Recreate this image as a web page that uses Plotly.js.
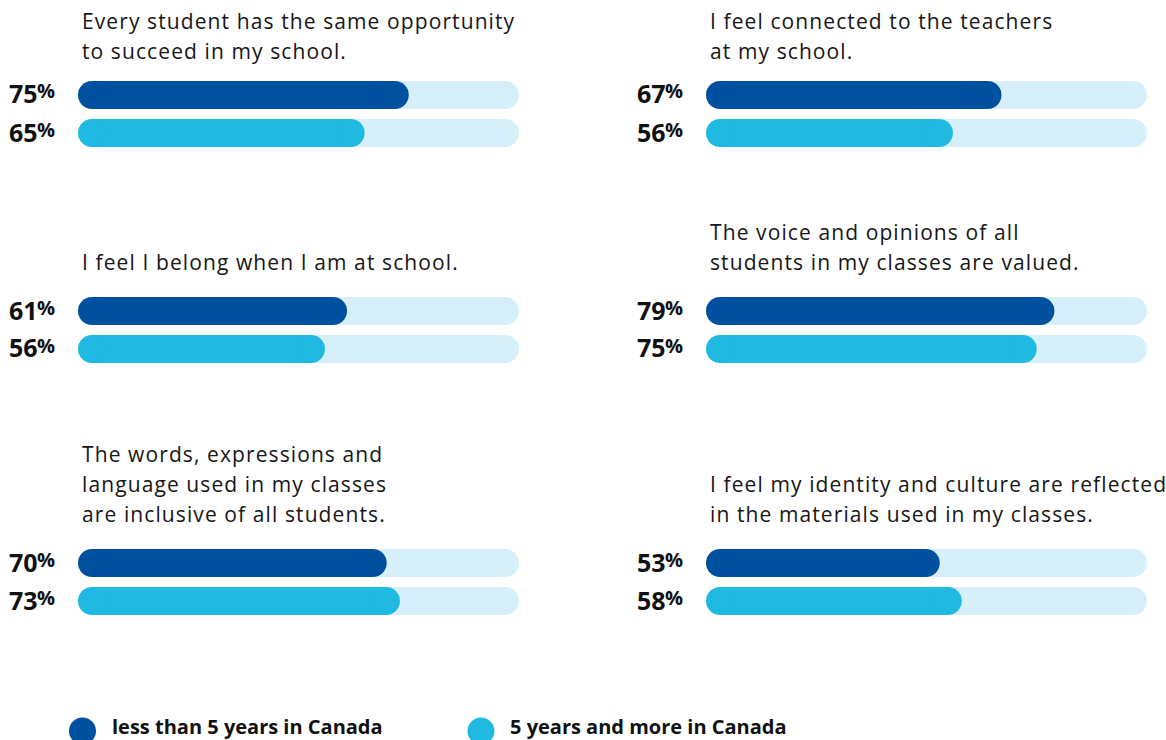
<!DOCTYPE html>
<html>
<head>
<meta charset="utf-8">
<script src="https://cdn.plot.ly/plotly-3.0.1.min.js"></script>
<style>
html,body{margin:0;padding:0;background:#fff;}
#chart{width:1166px;height:740px;}
</style>
</head>
<body>
<div id="chart"></div>
<script>
// ---- data ----
var questions = [
  ["Every student has the same opportunity", "to succeed in my school."],
  ["I feel connected to the teachers", "at my school."],
  ["I feel I belong when I am at school."],
  ["The voice and opinions of all", "students in my classes are valued."],
  ["The words, expressions and", "language used in my classes", "are inclusive of all students."],
  ["I feel my identity and culture are reflected", "in the materials used in my classes."]
];
var seriesNames = ["less than 5 years in Canada", "5 years and more in Canada"];
var lessThan5 = [75, 67, 61, 79, 70, 53];
var fivePlus = [65, 56, 56, 75, 73, 58];
var trackMax = 100;

// ---- style / layout ----
var W = 1166, H = 740;
var colDark = "#0050A0", colCyan = "#1FB9E1", colTrack = "#D7EFF8";
var fontFam = "'Open Sans', Lato, sans-serif";
var colX = [[78, 519], [706, 1147]];           // px left/right of track
var rowBarCenter = [95, 311, 563];              // px of first bar center
var rowLastLine = [51, 262, 514];               // px of last title line center
var catStep = 38, lineStep = 30, barPx = 28;

function px2x(p){ return p / W; }
function px2y(p){ return 1 - p / H; }

var data = [], layout = {
  width: W, height: H,
  margin: {l: 0, r: 0, t: 0, b: 0},
  paper_bgcolor: "#fff", plot_bgcolor: "#fff",
  barmode: "overlay", showlegend: false,
  font: {family: fontFam, color: "#111"},
  annotations: [], shapes: []
};
var cats = ["a", "b"];
var capR = (barPx / 2) / (colX[0][1] - colX[0][0]) * trackMax;   // cap radius in data units

function body(xa, ya, cat, v, color, name) {
  data.push({type: "bar", orientation: "h", base: [capR], x: [v - 2 * capR], y: [cat],
    xaxis: xa, yaxis: ya, name: name, width: barPx / catStep,
    marker: {color: color, line: {width: 0}}, hoverinfo: "skip"});
}
function caps(xa, ya, catArr, xArr, color) {
  data.push({type: "scatter", mode: "markers", x: xArr, y: catArr, xaxis: xa, yaxis: ya,
    cliponaxis: false, hoverinfo: "skip",
    marker: {symbol: "circle", size: barPx, color: color, line: {width: 0}}});
}

for (var i = 0; i < questions.length; i++) {
  var col = i % 2, row = Math.floor(i / 2);
  var n = i + 1;
  var xa = n === 1 ? "x" : "x" + n, ya = n === 1 ? "y" : "y" + n;
  var xk = n === 1 ? "xaxis" : "xaxis" + n, yk = n === 1 ? "yaxis" : "yaxis" + n;
  var yTopPx = rowBarCenter[row] - catStep / 2, yBotPx = rowBarCenter[row] + catStep * 1.5;
  layout[xk] = {domain: [px2x(colX[col][0]), px2x(colX[col][1])], range: [0, trackMax],
    visible: false, fixedrange: true, anchor: ya};
  layout[yk] = {domain: [px2y(yBotPx), px2y(yTopPx)], range: [1.5, -0.5], type: "category",
    categoryorder: "array", categoryarray: cats, visible: false, fixedrange: true, anchor: xa};
  var a = lessThan5[i], b = fivePlus[i];
  // tracks (left end is covered by the series' own round cap)
  body(xa, ya, cats[0], trackMax, colTrack, "track");
  body(xa, ya, cats[1], trackMax, colTrack, "track");
  caps(xa, ya, [cats[0], cats[1]], [trackMax - capR, trackMax - capR], colTrack);
  // series
  body(xa, ya, cats[0], a, colDark, seriesNames[0]);
  body(xa, ya, cats[1], b, colCyan, seriesNames[1]);
  caps(xa, ya, [cats[0], cats[0]], [capR, a - capR], colDark);
  caps(xa, ya, [cats[1], cats[1]], [capR, b - capR], colCyan);

  // value labels
  [a, b].forEach(function(v, k){
    var cy = rowBarCenter[row] + k * catStep;
    layout.annotations.push({xref: "paper", yref: "paper",
      x: px2x(colX[col][0] - 38), y: px2y(cy - 1.5),
      xanchor: "right", yanchor: "middle", showarrow: false,
      text: "<b>" + v + "</b>",
      font: {size: 25, color: "#111", family: fontFam}});
    layout.annotations.push({xref: "paper", yref: "paper",
      x: px2x(colX[col][0] - 43), y: px2y(cy - 4),
      xanchor: "left", yanchor: "middle", showarrow: false,
      text: "<b>%</b>",
      font: {size: 20, color: "#111", family: fontFam}});
  });
  // title lines
  var lines = questions[i];
  for (var L = 0; L < lines.length; L++) {
    var ly = rowLastLine[row] - (lines.length - 1 - L) * lineStep;
    layout.annotations.push({xref: "paper", yref: "paper",
      x: px2x(colX[col][0] + 2), y: px2y(ly), xanchor: "left", yanchor: "middle",
      showarrow: false, text: "<span style='letter-spacing:1.1px'>" + lines[L] + "</span>",
      font: {size: 21, color: "#161616", family: fontFam}});
  }
}

// legend (decoration)
var legX = [[82.5, 110], [481, 508]];
[colDark, colCyan].forEach(function(c, k){
  layout.shapes.push({type: "circle", xref: "paper", yref: "paper", fillcolor: c, line: {width: 0},
    x0: px2x(legX[k][0] - 13.5), x1: px2x(legX[k][0] + 13.5), y0: px2y(731 + 13.5), y1: px2y(731 - 13.5)});
  layout.annotations.push({xref: "paper", yref: "paper", x: px2x(legX[k][1]), y: px2y(726),
    xanchor: "left", yanchor: "middle", showarrow: false, text: "<b>" + seriesNames[k] + "</b>",
    font: {size: 20, color: "#111", family: fontFam}});
});

Plotly.newPlot("chart", data, layout, {displayModeBar: false, staticPlot: true});
</script>
</body>
</html>
